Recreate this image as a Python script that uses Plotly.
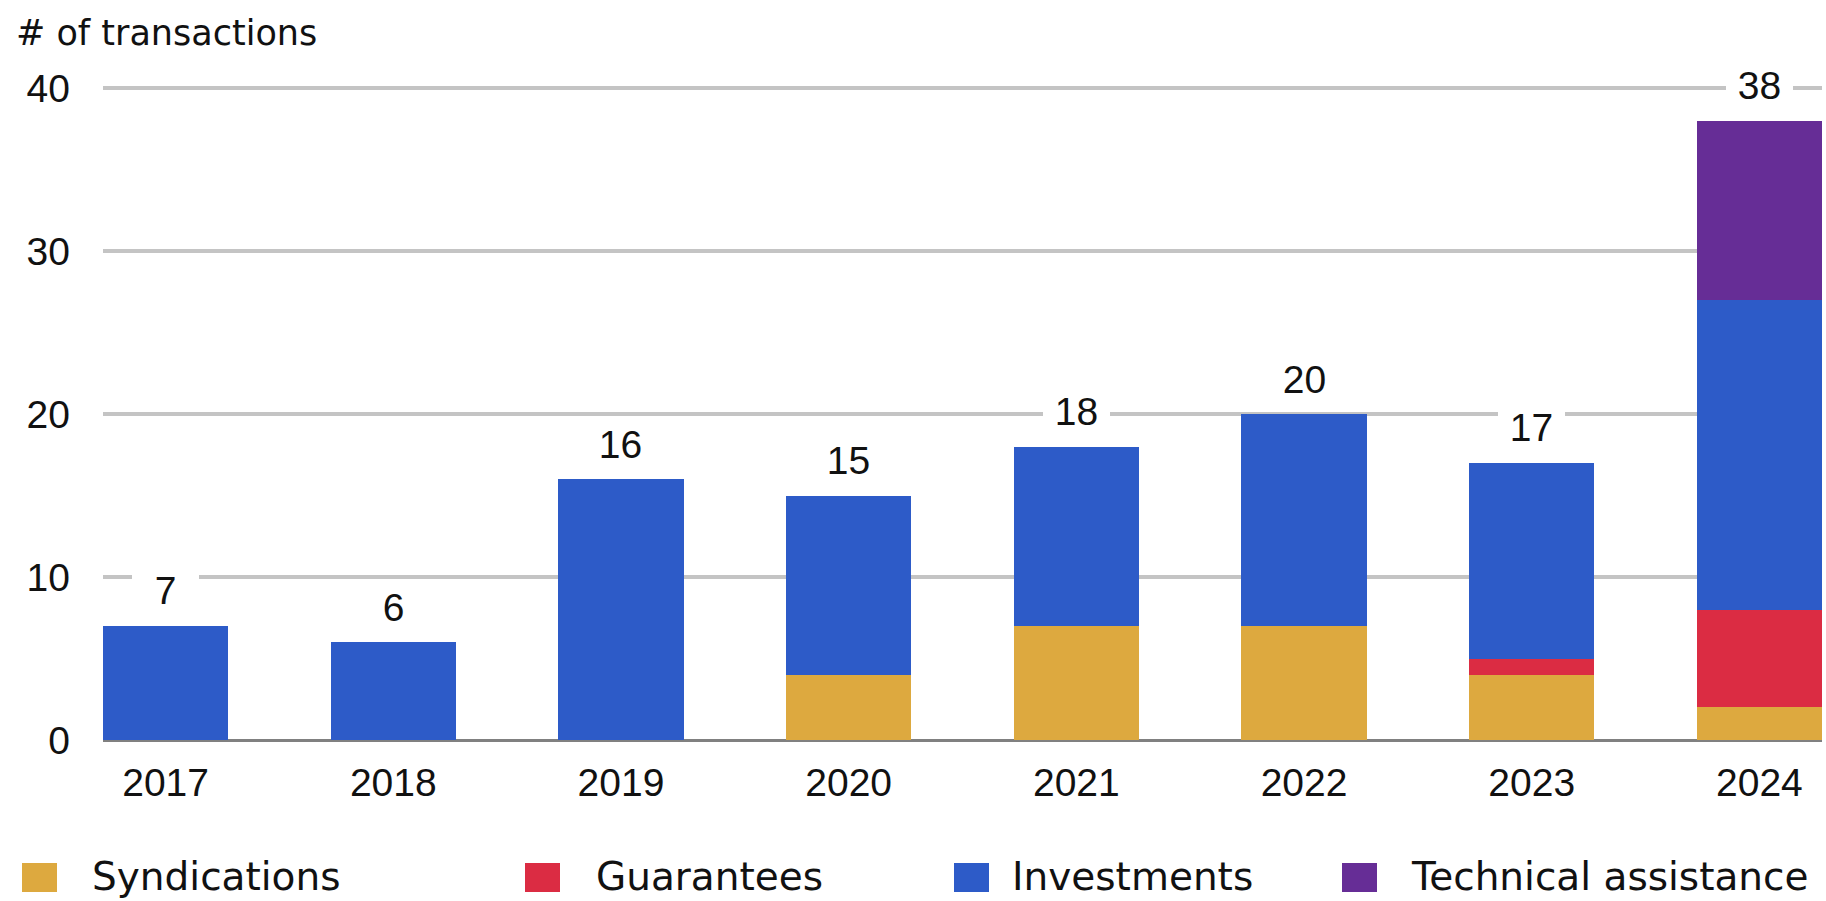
import plotly.graph_objects as go

years = ["2017", "2018", "2019", "2020", "2021", "2022", "2023", "2024"]
syndications = [0, 0, 0, 4, 7, 7, 4, 2]
guarantees = [0, 0, 0, 0, 0, 0, 1, 6]
investments = [7, 6, 16, 11, 11, 13, 12, 19]
technical_assistance = [0, 0, 0, 0, 0, 0, 0, 11]

series_names = ["Syndications", "Guarantees", "Investments", "Technical assistance"]
series_values = [syndications, guarantees, investments, technical_assistance]
series_colors = ["#DDA93F", "#DB2C43", "#2D5BC8", "#662D96"]
y_ticks = [0, 10, 20, 30, 40]
y_title = "# of transactions"

W, H = 1826, 901
ML, MR, MT, MB = 103, 4, 85, 161
PW, PH = W - ML - MR, H - MT - MB
Y_TOP = 40.185  # leaves a few px above the 40 gridline so it is drawn

def px_x(px):
    return (px - ML) / PW

def px_y(py):
    return (H - MB - py) / PH

NUM_FONT = "Liberation Sans, Arial, sans-serif"
TXT_FONT = "DejaVu Sans, sans-serif"
TXT_COLOR = "#111111"

fig = go.Figure()
for name, vals, col in zip(series_names, series_values, series_colors):
    fig.add_trace(go.Bar(
        x=years, y=vals, name=name,
        marker=dict(color=col, line=dict(width=0)),
        showlegend=False, hoverinfo="x+y+name",
    ))

totals = [sum(v) for v in zip(*series_values)]
annotations = []
for i, tot in enumerate(totals):
    annotations.append(dict(
        x=i, y=tot, xref="x", yref="y", text=str(tot), showarrow=False,
        yanchor="middle", xanchor="center", yshift=35,
        bgcolor="white", width=67, borderpad=0, borderwidth=0,
        font=dict(family=NUM_FONT, size=39, color=TXT_COLOR),
    ))

# title
annotations.append(dict(
    x=px_x(14), y=px_y(33), xref="paper", yref="paper", text=y_title,
    showarrow=False, xanchor="left", yanchor="middle",
    font=dict(family=TXT_FONT, size=35, color=TXT_COLOR),
))

# manual legend
sq_left = [22, 525, 954, 1342]
txt_left = [93, 597, 1013, 1412]
shapes = []
for name, col, sl, tl in zip(series_names, series_colors, sq_left, txt_left):
    shapes.append(dict(
        type="rect", xref="paper", yref="paper",
        x0=px_x(sl), x1=px_x(sl + 35), y0=px_y(892), y1=px_y(863),
        fillcolor=col, line=dict(width=0),
    ))
    annotations.append(dict(
        x=px_x(tl), y=px_y(876), xref="paper", yref="paper", text=name,
        showarrow=False, xanchor="left", yanchor="middle", xshift=-3,
        font=dict(family=TXT_FONT, size=39, color=TXT_COLOR),
    ))

fig.update_layout(
    width=W, height=H,
    margin=dict(l=ML, r=MR, t=MT, b=MB, pad=0, autoexpand=False),
    paper_bgcolor="white", plot_bgcolor="white",
    barmode="stack", bargap=0.45,
    annotations=annotations, shapes=shapes,
    showlegend=False,
    xaxis=dict(
        type="category", range=[-0.275, len(years) - 1 + 0.275],
        showgrid=False, showline=False, zeroline=False, automargin=False,
        ticks="", ticklabelstandoff=16,
        tickfont=dict(family=NUM_FONT, size=39, color=TXT_COLOR),
        fixedrange=True,
    ),
    yaxis=dict(
        range=[0, Y_TOP], tickvals=y_ticks, automargin=False,
        showgrid=True, gridcolor="#c4c4c4", gridwidth=3.5,
        zeroline=True, zerolinecolor="#808080", zerolinewidth=3,
        showline=False, ticks="", ticklabelstandoff=32,
        tickfont=dict(family=NUM_FONT, size=39, color=TXT_COLOR),
        fixedrange=True,
    ),
)

fig.write_html(
    "out.html",
    config={"displayModeBar": False},
    post_script="document.body.style.margin='0';document.body.style.overflow='hidden';",
)
